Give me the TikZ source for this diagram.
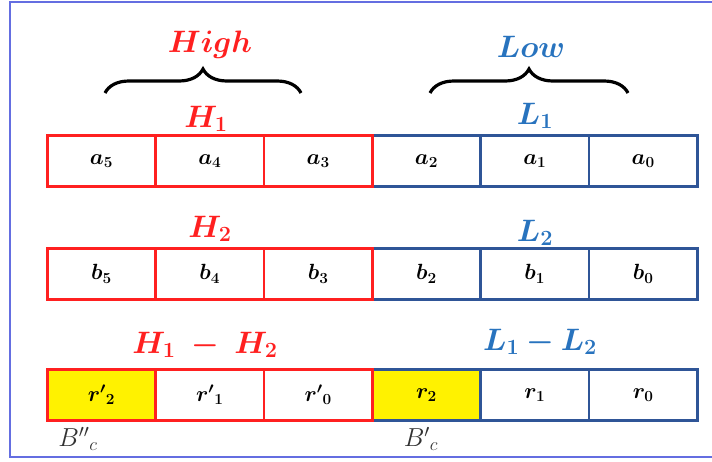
\documentclass[tikz,border=0pt]{standalone}
\usepackage{fix-cm}
\usepackage{amsmath}
\usepackage{bm}
\usetikzlibrary{decorations.pathreplacing}
\definecolor{hired}{RGB}{255,32,32}
\definecolor{loblue}{RGB}{40,115,190}
\definecolor{cellblue}{RGB}{47,85,151}
\definecolor{framecol}{RGB}{100,110,225}
\definecolor{notegray}{RGB}{50,50,50}
\begin{document}
\begin{tikzpicture}[x=1pt, y=-1pt,
    cell/.style={rectangle, draw, line width=2.5pt, minimum width=108.3pt,
                 minimum height=51pt, inner sep=0pt, font=\fontsize{22}{26}\selectfont},
    hicell/.style={cell, draw=hired},
    locell/.style={cell, draw=cellblue},
    marked/.style={fill=yellow},
    hilabel/.style={text=hired, font=\fontsize{31}{36}\selectfont},
    lolabel/.style={text=loblue, font=\fontsize{31}{36}\selectfont},
    note/.style={text=notegray, font=\fontsize{26}{30}\selectfont},
    curly/.style={decorate, decoration={brace, amplitude=24pt, aspect=0.5}, line width=3.2pt}
]
    \useasboundingbox (0,0) rectangle (712,461);
    % frame
    \draw[framecol, line width=2pt] (712,1.5) -- (10,1.5) -- (10,457) -- (712,457);

    % group headings
    \node[hilabel] (high) at (210,45) {$\bm{High}$};
    \node[lolabel] (low) at (531,47) {$\bm{Low}$};
    \coordinate (hl) at (105,93);
    \coordinate (hr) at (301,93);
    \coordinate (ll) at (430,93);
    \coordinate (lr) at (628,93);
    \draw[curly] (hl) -- (hr);
    \draw[curly] (ll) -- (lr);

    % row labels
    \node[hilabel] (h1) at (206,119) {$\bm{H_1}$};
    \node[lolabel] (l1) at (535,116) {$\bm{L_1}$};
    \node[hilabel] (h2) at (210,229) {$\bm{H_2}$};
    \node[lolabel] (l2) at (535,233) {$\bm{L_2}$};
    \node[hilabel] (hd) at (205,345) {$\bm{H_1 \;-\; H_2}$};
    \node[lolabel] (ld) at (540,342) {$\bm{L_1 - L_2}$};

    % first operand
    \node[locell] (a0) at (643.2,161) {$\bm{a_0}$};
    \node[locell] (a1) at (534.8,161) {$\bm{a_1}$};
    \node[locell] (a2) at (426.5,161) {$\bm{a_2}$};
    \node[hicell] (a3) at (318.2,161) {$\bm{a_3}$};
    \node[hicell] (a4) at (209.8,161) {$\bm{a_4}$};
    \node[hicell] (a5) at (101.5,161) {$\bm{a_5}$};

    % second operand
    \node[locell] (b0) at (643.2,274) {$\bm{b_0}$};
    \node[locell] (b1) at (534.8,274) {$\bm{b_1}$};
    \node[locell] (b2) at (426.5,274) {$\bm{b_2}$};
    \node[hicell] (b3) at (318.2,274) {$\bm{b_3}$};
    \node[hicell] (b4) at (209.8,274) {$\bm{b_4}$};
    \node[hicell] (b5) at (101.5,274) {$\bm{b_5}$};

    % result
    \node[locell] (r0) at (643.2,395) {$\bm{r_0}$};
    \node[locell] (r1) at (534.8,395) {$\bm{r_1}$};
    \node[locell, marked] (r2) at (426.5,395) {$\bm{r_2}$};
    \node[hicell] (rp0) at (318.2,395) {${\bm{r'}}_{\bm{0}}$};
    \node[hicell] (rp1) at (209.8,395) {${\bm{r'}}_{\bm{1}}$};
    \node[hicell, marked] (rp2) at (101.5,395) {${\bm{r'}}_{\bm{2}}$};

    % borrow notes
    \node[note] (bpp) at (78,439) {${B''}_c$};
    \node[note] (bp) at (421,439) {${B'}_c$};
\end{tikzpicture}
\end{document}
